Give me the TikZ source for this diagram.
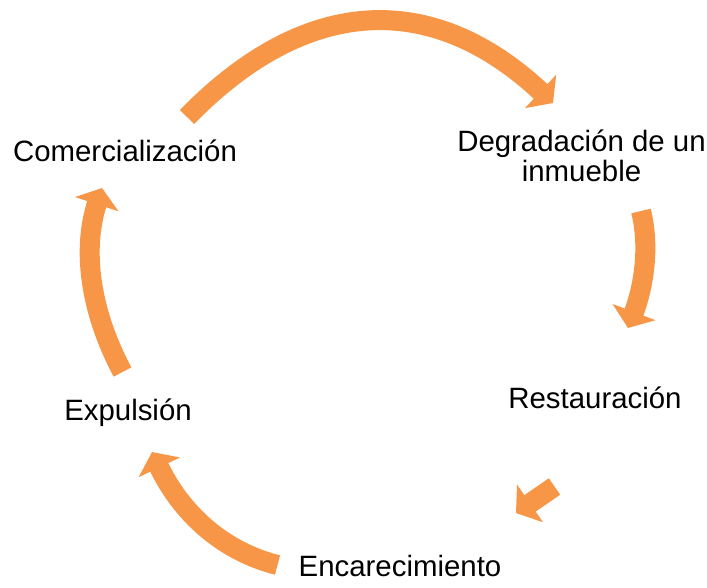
\documentclass[tikz,border=0pt]{standalone}
\usepackage{fontspec}
\setmainfont{Liberation Sans}
\usetikzlibrary{arrows.meta}
\definecolor{cycorange}{HTML}{F79646}
\begin{document}
\begin{tikzpicture}[x=1pt,y=-1pt,
  cyclearrow/.style={draw=cycorange, line width=20pt, line cap=butt,
    -{Triangle[length=17pt 0 0, width=45pt 0]}},
  label/.style={font=\fontsize{29.4}{30.5}\selectfont, inner sep=0pt, anchor=base, align=center, text=black}]
\useasboundingbox (0,0) rectangle (707,587);
% labels
\node[label] (com) at (125,161) {Comercializaci\'on};
\node[label] (deg) at (581.5,181.7) {Degradaci\'on de un\\inmueble};
\node[label] (res) at (595,408.3) {Restauraci\'on};
\node[label] (enc) at (400,576.7) {Encarecimiento};
\node[label] (exp) at (128,420) {Expulsi\'on};
% connector end points
\coordinate (a1s) at (187,117);
\coordinate (a1e) at (553,103);
\coordinate (a2s) at (641,211);
\coordinate (a2e) at (628,328);
\coordinate (a3s) at (554.5,486.5);
\coordinate (a3e) at (516,513);
\coordinate (a4s) at (277.5,565);
\coordinate (a4e) at (152,452);
\coordinate (a5s) at (122.5,372);
\coordinate (a5e) at (102,188);
% arrows
\draw[cyclearrow] (a1s) .. controls (305,-4) and (431,-11) .. (a1e);
\draw[cyclearrow] (a2s) .. controls (649.3,244) and (645,283) .. (a2e);
\draw[cyclearrow] (a3s) -- (a3e);
\draw[cyclearrow] (a4s) .. controls (223.4,551.5) and (181.5,513.8) .. (a4e);
\draw[cyclearrow] (a5s) .. controls (89.2,309.6) and (82.3,248.3) .. (a5e);
\end{tikzpicture}
\end{document}
